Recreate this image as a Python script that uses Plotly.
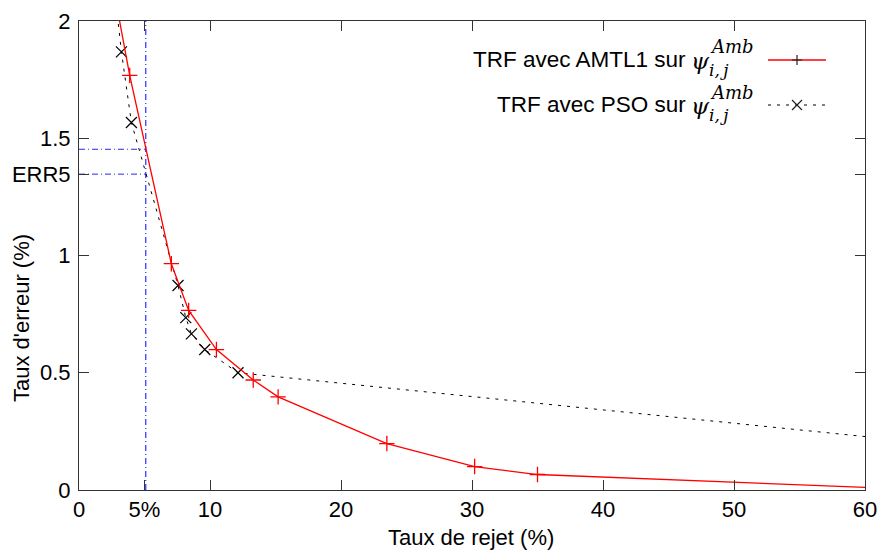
import plotly.graph_objects as go

# Taux de rejet (%) / taux d'erreur (%) for the two TRF variants
rejet_amtl = [2.6, 3.87, 7.05, 8.37, 10.49, 13.3, 15.2, 23.5, 30.2, 35.0, 65.0]
err_amtl = [2.15, 1.768, 0.965, 0.766, 0.599, 0.469, 0.397, 0.198, 0.100, 0.066, 0.0]

rejet_pso = [2.7, 3.24, 4.0, 7.56, 8.15, 8.58, 9.6, 12.14, 70.0]
err_pso = [2.14, 1.868, 1.567, 0.872, 0.735, 0.666, 0.599, 0.500, 0.171]

# Operating point at 5 % rejection
rejet_cible = 5.1
err_amtl_5 = 1.453
err5 = 1.347

x_ticks = [0, 5, 10, 20, 30, 40, 50, 60]
x_labels = ["0", "5%", "10", "20", "30", "40", "50", "60"]
y_ticks = [0, 0.5, 1, err5, 1.5, 2]
y_labels = ["0", "0.5", "1", "ERR5", "1.5", "2"]

X_RANGE = [0, 60]
Y_RANGE = [0, 2]

# page geometry (pixels)
W, H = 882, 551
L, R, T, B = 79, 17, 21, 61
PW, PH = W - L - R, H - T - B


def px_x(p):
    return (p - L) / PW


def px_y(p):
    return (H - B - p) / PH


SANS = "Liberation Sans, Arial, sans-serif"
SERIF = "DejaVu Serif, serif"
FRAME = "#333333"
BLUE_DASH = "6px,3px,1px,3px"
DOT = "3px,6px"

fig = go.Figure()

# 5 % reference lines
fig.add_trace(go.Scatter(x=[rejet_cible, rejet_cible], y=Y_RANGE, mode="lines",
                         line=dict(color="#0000ff", width=1, dash=BLUE_DASH),
                         hoverinfo="skip"))
for lvl in (err_amtl_5, err5):
    fig.add_trace(go.Scatter(x=[X_RANGE[0], rejet_cible], y=[lvl, lvl], mode="lines",
                             line=dict(color="#2828e8", width=1, dash=BLUE_DASH),
                             hoverinfo="skip"))

# PSO curve
fig.add_trace(go.Scatter(x=rejet_pso, y=err_pso, mode="lines+markers",
                         line=dict(color="#000000", width=1, dash=DOT),
                         marker=dict(symbol="x-thin", size=11,
                                     line=dict(width=1.2, color="#000000"))))
# AMTL1 curve
fig.add_trace(go.Scatter(x=rejet_amtl, y=err_amtl, mode="lines+markers",
                         line=dict(color="#ff0000", width=1.3),
                         marker=dict(symbol="cross-thin", size=11,
                                     line=dict(width=1.3, color="#ff0000"))))

axis_common = dict(
    showline=True, linecolor=FRAME, linewidth=1, mirror="allticks",
    ticks="inside", ticklen=10, tickcolor=FRAME, tickwidth=1,
    showgrid=False, zeroline=False, automargin=False,
    tickfont=dict(family=SANS, size=22, color="#000000"),
)

fig.update_layout(
    width=W, height=H,
    margin=dict(l=L, r=R, t=T, b=B, autoexpand=False),
    paper_bgcolor="white", plot_bgcolor="white",
    showlegend=False,
    xaxis=dict(range=X_RANGE, tickmode="array", tickvals=x_ticks, ticktext=x_labels,
               **axis_common),
    yaxis=dict(range=Y_RANGE, tickmode="array", tickvals=y_ticks, ticktext=y_labels,
               ticklabelstandoff=3, **axis_common),
)

annotations = [
    dict(text="Taux de rejet (%)", x=px_x(471), y=px_y(537), xref="paper", yref="paper",
         showarrow=False, xanchor="center", yanchor="middle",
         font=dict(family=SANS, size=22, color="#000000")),
    dict(text="Taux d'erreur (%)", x=px_x(21), y=px_y(318), xref="paper", yref="paper",
         showarrow=False, xanchor="center", yanchor="middle", textangle=-90,
         font=dict(family=SANS, size=22, color="#000000")),
]

shapes = []

# key: label text, row position, sample style
legend_rows = [
    ("TRF avec AMTL1 sur", 60, "#ff0000", None, "plus"),
    ("TRF avec PSO sur", 105, "#000000", "dot", "cross"),
]

for label, ry, col, dash, sym in legend_rows:
    annotations.append(dict(text=label, x=px_x(688), y=px_y(ry), xref="paper", yref="paper",
                            showarrow=False, xanchor="right", yanchor="middle",
                            font=dict(family=SANS, size=22.5, color="#000000")))
    annotations.append(dict(text="<i>ψ</i>", x=px_x(689), y=px_y(ry + 1), xref="paper",
                            yref="paper", showarrow=False, xanchor="left", yanchor="middle",
                            font=dict(family=SERIF, size=23, color="#000000")))
    annotations.append(dict(text="<i>Amb</i>", x=px_x(708), y=px_y(ry - 13), xref="paper",
                            yref="paper", showarrow=False, xanchor="left", yanchor="middle",
                            font=dict(family=SERIF, size=18, color="#000000")))
    annotations.append(dict(text="<i>i,\u2009j</i>", x=px_x(707), y=px_y(ry + 10), xref="paper",
                            yref="paper", showarrow=False, xanchor="left", yanchor="middle",
                            font=dict(family=SERIF, size=17, color="#000000")))
    line = dict(color=col, width=1.3 if dash is None else 1)
    if dash:
        line["dash"] = DOT
    shapes.append(dict(type="line", xref="paper", yref="paper",
                       x0=px_x(768), x1=px_x(826), y0=px_y(ry), y1=px_y(ry), line=line))
    cx, s = 797, 5
    if sym == "plus":
        path = (f"M {px_x(cx - s)} {px_y(ry)} L {px_x(cx + s)} {px_y(ry)} "
                f"M {px_x(cx)} {px_y(ry - s)} L {px_x(cx)} {px_y(ry + s)}")
    else:
        path = (f"M {px_x(cx - s)} {px_y(ry - s)} L {px_x(cx + s)} {px_y(ry + s)} "
                f"M {px_x(cx - s)} {px_y(ry + s)} L {px_x(cx + s)} {px_y(ry - s)}")
    shapes.append(dict(type="path", xref="paper", yref="paper", path=path,
                       line=dict(color="#222222", width=1.2)))

fig.update_layout(annotations=annotations, shapes=shapes)

fig.write_html("out.html")
